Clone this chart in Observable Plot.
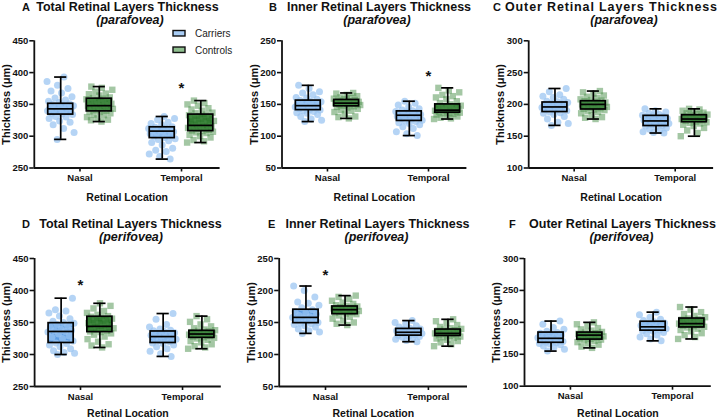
<!DOCTYPE html>
<html><head><meta charset="utf-8">
<script src="https://cdn.jsdelivr.net/npm/d3@7"></script>
<script src="https://cdn.jsdelivr.net/npm/@observablehq/plot@0.6"></script>
<style>
body{margin:0;background:#fff;}
#wrap{position:relative;width:720px;height:420px;overflow:hidden;background:#fff;}
.panel{position:absolute;}
#over{position:absolute;left:0;top:0;pointer-events:none;}
</style></head><body><div id="wrap"></div><script>
// ---------------- data ----------------
const locations = ["Nasal", "Temporal"];
const groups = ["Carriers", "Controls"];
const panelLetters = ["A", "B", "C", "D", "E", "F"];
const panelTitles = ["Total Retinal Layers Thickness", "Inner Retinal Layers Thickness", "Outer Retinal Layers Thickness",
                     "Total Retinal Layers Thickness", "Inner Retinal Layers Thickness", "Outer Retinal Layers Thickness"];
const panelRegions = ["(parafovea)", "(parafovea)", "(parafovea)", "(perifovea)", "(perifovea)", "(perifovea)"];
const yAxisLabel = "Thickness (μm)";
const xAxisLabel = "Retinal Location";
const yDomains = [[250, 450], [50, 250], [100, 300], [250, 450], [50, 250], [100, 300]];
const yTicks = [[250, 300, 350, 400, 450], [50, 100, 150, 200, 250], [100, 150, 200, 250, 300],
                [250, 300, 350, 400, 450], [50, 100, 150, 200, 250], [100, 150, 200, 250, 300]];

// box stats [min, q1, median, q3, max]; order: Carriers-Nasal, Controls-Nasal, Carriers-Temporal, Controls-Temporal
const boxA = [[295, 334, 343, 351, 393], [323, 339, 348, 359, 378], [264, 297, 308, 314, 331], [290, 308, 317, 334, 356]];
const boxB = [[123, 141, 148, 156, 180], [128, 147, 152, 157, 168], [101, 124, 133, 139, 155], [127, 137, 141, 150, 176]];
const boxC = [[167, 188, 196, 203, 225], [177, 192, 200, 205, 221], [155, 166, 174, 182, 193], [150, 172, 177, 183, 193]];
const boxD = [[300, 318, 336, 349, 388], [311, 335, 344, 359, 380], [297, 318, 328, 336, 364], [309, 326, 332, 337, 360]];
const boxE = [[133, 149, 158, 170, 207], [146, 163, 170, 175, 192], [120, 129.5, 134.7, 140, 153], [113, 129, 133, 139, 155]];
const boxF = [[155, 168, 175, 184, 202], [160, 173, 180, 184, 200], [171, 187, 193, 201, 216], [174, 192, 198, 206, 224]];

// individual values
const A_car_nas = [295, 306, 312, 318, 322, 324, 328, 330, 331, 334, 335, 336, 338, 339, 340, 341, 342, 343, 344, 345, 346, 347, 348, 349, 350, 351, 353, 355, 357, 360, 362, 368, 371, 375, 380, 386, 393];
const A_con_nas = [323, 325, 326, 328, 330, 333, 334, 336, 338, 339, 340, 341, 343, 344, 345, 346, 347, 348, 349, 350, 351, 352, 354, 355, 356, 358, 359, 360, 361, 364, 366, 367, 370, 373, 376, 378];
const A_car_tem = [264, 268, 272, 276, 278, 281, 286, 290, 293, 295, 296, 298, 300, 301, 302, 304, 305, 306, 307, 308, 309, 310, 311, 312, 313, 314, 315, 318, 320, 322, 326, 328, 331];
const A_con_tem = [290, 292, 294, 298, 300, 302, 305, 306, 307, 308, 309, 310, 312, 313, 314, 315, 316, 317, 318, 320, 322, 324, 325, 328, 330, 331, 333, 334, 336, 337, 340, 342, 344, 348, 350, 352, 356];
const B_car_nas = [123, 125, 127, 131, 134, 136, 137, 139, 140, 141, 142, 143, 144, 145, 146, 147, 148, 149, 150, 151, 152, 153, 154, 155, 156, 158, 160, 161, 165, 168, 170, 175, 180];
const B_con_nas = [128, 130, 131, 135, 138, 140, 141, 143, 145, 146, 147, 148, 149, 150, 150, 151, 152, 152, 153, 154, 154, 155, 156, 157, 158, 159, 160, 161, 163, 165, 167, 168];
const B_car_tem = [101, 104, 107, 112, 115, 118, 120, 121, 123, 124, 125, 127, 128, 129, 130, 131, 132, 133, 134, 135, 136, 137, 138, 139, 140, 141, 143, 146, 149, 152, 155];
const B_con_tem = [127, 128, 129, 131, 133, 134, 135, 136, 137, 137, 138, 139, 140, 140, 141, 142, 143, 144, 145, 146, 147, 148, 150, 152, 155, 158, 161, 163, 165, 169, 172, 176];
const C_car_nas = [167, 170, 172, 177, 181, 184, 186, 187, 188, 190, 191, 192, 193, 194, 195, 196, 197, 198, 199, 200, 201, 202, 203, 204, 205, 208, 211, 213, 215, 220, 225];
const C_con_nas = [177, 179, 180, 183, 186, 188, 190, 191, 192, 193, 194, 195, 196, 197, 198, 199, 200, 200, 201, 202, 203, 204, 205, 206, 207, 208, 210, 212, 214, 217, 219, 221];
const C_car_tem = [155, 156, 157, 159, 161, 163, 165, 166, 167, 168, 170, 171, 172, 173, 174, 175, 176, 177, 178, 179, 180, 181, 182, 183, 184, 186, 188, 190, 193];
const C_con_tem = [150, 155, 159, 163, 166, 168, 170, 171, 172, 173, 174, 175, 176, 177, 177, 178, 179, 180, 181, 182, 183, 184, 185, 186, 187, 188, 190, 192, 193];
const D_car_nas = [300, 302, 303, 306, 309, 312, 315, 317, 318, 321, 325, 327, 329, 332, 335, 336, 337, 338, 340, 342, 345, 347, 349, 350, 352, 356, 360, 365, 368, 370, 388];
const D_con_nas = [311, 314, 316, 320, 324, 328, 331, 333, 335, 336, 337, 339, 341, 343, 344, 345, 347, 349, 351, 353, 356, 358, 359, 360, 362, 365, 368, 372, 376, 380];
const D_car_tem = [297, 301, 305, 309, 312, 315, 317, 318, 320, 322, 324, 326, 327, 328, 329, 330, 331, 332, 334, 336, 337, 338, 340, 343, 347, 355, 364];
const D_con_tem = [309, 311, 313, 316, 319, 321, 323, 325, 326, 327, 328, 329, 330, 331, 332, 332, 333, 334, 335, 336, 337, 338, 339, 341, 344, 347, 351, 355, 360];
const E_car_nas = [133, 135, 137, 140, 143, 145, 147, 148, 149, 150, 152, 154, 155, 157, 158, 159, 161, 163, 165, 167, 170, 173, 177, 180, 182, 190, 200, 207];
const E_con_nas = [146, 148, 150, 153, 156, 159, 161, 163, 164, 165, 166, 167, 168, 169, 170, 170, 171, 172, 173, 174, 175, 176, 177, 179, 181, 184, 187, 190, 192];
const E_car_tem = [120, 122, 124, 126, 127, 128, 129, 130, 131, 132, 133, 134, 135, 135, 136, 137, 138, 139, 140, 141, 143, 145, 148, 150, 153];
const E_con_tem = [113, 116, 119, 121, 123, 125, 126, 127, 128, 129, 130, 131, 132, 133, 133, 134, 135, 136, 137, 138, 139, 140, 141, 143, 146, 149, 152, 155];
const F_car_nas = [155, 158, 161, 163, 165, 166, 167, 168, 169, 170, 172, 173, 174, 175, 176, 177, 178, 180, 182, 183, 184, 186, 189, 192, 197, 202];
const F_con_nas = [160, 162, 165, 167, 169, 171, 172, 173, 174, 175, 176, 177, 178, 179, 180, 180, 181, 182, 183, 184, 185, 187, 189, 191, 194, 197, 200];
const F_car_tem = [171, 174, 177, 180, 182, 184, 186, 187, 188, 189, 190, 191, 192, 193, 194, 195, 196, 198, 199, 201, 203, 205, 208, 212, 216];
const F_con_tem = [174, 177, 180, 183, 186, 188, 190, 192, 193, 194, 195, 196, 197, 198, 199, 200, 201, 202, 204, 205, 206, 208, 210, 213, 216, 220, 224];

// significance markers: [location, value]
const starA = [["Temporal", 382]];
const starB = [["Temporal", 200]];
const starC = [];
const starD = [["Nasal", 415]];
const starE = [["Nasal", 230]];
const starF = [];

// ---------------- assembly ----------------
const boxStats = [boxA, boxB, boxC, boxD, boxE, boxF];
const points = [
  [A_car_nas, A_con_nas, A_car_tem, A_con_tem], [B_car_nas, B_con_nas, B_car_tem, B_con_tem],
  [C_car_nas, C_con_nas, C_car_tem, C_con_tem], [D_car_nas, D_con_nas, D_car_tem, D_con_tem],
  [E_car_nas, E_con_nas, E_car_tem, E_con_tem], [F_car_nas, F_con_nas, F_car_tem, F_con_tem]];
const stars = [starA, starB, starC, starD, starE, starF];

// layout (pixels)
const layout = [
  {left: 0,   top: 0,   mL: 33.8, mR: 20.4, mT: 40.3, mB: 42.5, xl: 29.5},
  {left: 240, top: 0,   mL: 41.5, mR: 13.6, mT: 40.3, mB: 42.5, xl: 29.5},
  {left: 480, top: 0,   mL: 48.2, mR: 6.9,  mT: 40.3, mB: 42.5, xl: 29.5},
  {left: 0,   top: 210, mL: 34.1, mR: 19.2, mT: 48,   mB: 34,   xl: 27.5},
  {left: 240, top: 210, mL: 38.7, mR: 13,   mT: 48,   mB: 34,   xl: 27.5},
  {left: 480, top: 210, mL: 44,   mR: 9.2,  mT: 48,   mB: 34.3, xl: 27.5}];
const xDomain = [-0.45, 1.38];
const dodge = 0.19, halfBox = 0.123, halfCap = 0.06, spread = 0.135;
const fontFam = "'Liberation Sans', Arial, Helvetica, sans-serif";
const boxFill = ["#5d9de4", "#1d6b1d"];
const wrap = document.getElementById("wrap");

function makePanel(i) {
  const L = layout[i];
  const boxes = boxStats[i].map((s, k) => {
    const li = k >> 1, g = k & 1;
    return {g, c: li + (g ? dodge : -dodge), min: s[0], q1: s[1], med: s[2], q3: s[3], max: s[4]};
  });
  const pts = [];
  points[i].forEach((arr, k) => {
    const b = boxes[k];
    arr.forEach((v, j) => {
      const off = (((j * 0.618034 + 0.37 + k * 0.21) % 1) - 0.5) * 2 * spread;
      pts.push({g: b.g, x: b.c + off, y: v});
    });
  });
  const car = pts.filter(d => d.g === 0), con = pts.filter(d => d.g === 1);
  const line = {stroke: "#000", strokeWidth: 1.7};
  const plot = Plot.plot({
    width: 240, height: 210,
    marginLeft: L.mL, marginRight: L.mR, marginTop: L.mT, marginBottom: L.mB,
    style: {fontFamily: fontFam, background: "transparent", overflow: "visible"},
    x: {type: "linear", domain: xDomain},
    y: {domain: yDomains[i]},
    marks: [
      Plot.rect(boxes.filter(d => d.g === 0), {x1: d => d.c - halfBox, x2: d => d.c + halfBox, y1: "q1", y2: "q3", fill: boxFill[0]}),
      Plot.rect(boxes.filter(d => d.g === 1), {x1: d => d.c - halfBox, x2: d => d.c + halfBox, y1: "q1", y2: "q3", fill: boxFill[1]}),
      Plot.dot(car, {x: "x", y: "y", r: 3.5, symbol: "circle", fill: "#98c3f1", fillOpacity: 0.72}),
      Plot.dot(con, {x: "x", y: "y", r: 3.6, symbol: "square", fill: "#4a8f4a", fillOpacity: 0.5}),
      Plot.rect(boxes, {x1: d => d.c - halfBox, x2: d => d.c + halfBox, y1: "q1", y2: "q3", fill: "none", ...line}),
      Plot.ruleY(boxes, {y: "med", x1: d => d.c - halfBox, x2: d => d.c + halfBox, ...line}),
      Plot.ruleX(boxes, {x: "c", y1: "min", y2: "q1", ...line}),
      Plot.ruleX(boxes, {x: "c", y1: "q3", y2: "max", ...line}),
      Plot.ruleY(boxes, {y: "min", x1: d => d.c - halfCap, x2: d => d.c + halfCap, ...line}),
      Plot.ruleY(boxes, {y: "max", x1: d => d.c - halfCap, x2: d => d.c + halfCap, ...line}),
      Plot.axisY({ticks: yTicks[i], tickSize: 4.5, tickPadding: 1.5, strokeWidth: 1.6, fontSize: 9.5, fontWeight: "bold", color: "#111", label: null}),
      Plot.axisX({ticks: [0, 1], tickFormat: d => locations[d], tickSize: 4, tickPadding: 2.5, strokeWidth: 1.6, fontSize: 9.5, fontWeight: "bold", color: "#111", label: null}),
      Plot.ruleX([xDomain[0]], {stroke: "#111", strokeWidth: 1.8}),
      Plot.ruleY([yDomains[i][0]], {stroke: "#111", strokeWidth: 1.8}),
      Plot.text(stars[i], {x: d => locations.indexOf(d[0]), y: d => d[1], text: () => "*", fontSize: 15, fontWeight: "bold", fill: "#111", lineAnchor: "middle", dy: 4}),
      Plot.text([yAxisLabel], {text: d => d, frameAnchor: "left", dx: -28, rotate: -90, fontSize: 11, fontWeight: "bold", fill: "#111", textAnchor: "middle", lineAnchor: "middle"}),
      Plot.text([xAxisLabel], {text: d => d, frameAnchor: "bottom", dy: L.xl, fontSize: 10.5, fontWeight: "bold", fill: "#111", textAnchor: "middle", lineAnchor: "middle"})
    ]
  });
  const div = document.createElement("div");
  div.className = "panel";
  div.style.left = L.left + "px";
  div.style.top = L.top + "px";
  div.appendChild(plot);
  wrap.appendChild(div);
}
for (let i = 0; i < 6; i++) makePanel(i);

// titles and legend overlay
const titleLayout = [
  {letterX: 22, titleC: 127.5, subC: 130, base: 10.5},
  {letterX: 269, titleC: 379, subC: 377, base: 10.5},
  {letterX: 493, titleC: 611, subC: 624, base: 10.5, len: 212},
  {letterX: 22, titleC: 130.5, subC: 131, base: 227.5},
  {letterX: 268, titleC: 377.5, subC: 376.5, base: 227.5},
  {letterX: 509, titleC: 622.5, subC: 621.5, base: 227.5}];
const over = d3.select(wrap).append("svg").attr("id", "over").attr("width", 720).attr("height", 420)
  .style("font-family", fontFam);
titleLayout.forEach((t, i) => {
  over.append("text").attr("x", t.letterX).attr("y", t.base).attr("font-size", 11).attr("font-weight", "bold")
    .attr("fill", "#111").text(panelLetters[i]);
  const tt = over.append("text").attr("x", t.titleC).attr("y", t.base).attr("font-size", 12.5).attr("font-weight", "bold")
    .attr("fill", "#111").attr("text-anchor", "middle").text(panelTitles[i]);
  if (t.len) tt.attr("textLength", t.len).attr("lengthAdjust", "spacing");
  over.append("text").attr("x", t.subC).attr("y", t.base + 13.5).attr("font-size", 12.5).attr("font-weight", "bold")
    .attr("font-style", "italic").attr("fill", "#111").attr("text-anchor", "middle").text(panelRegions[i]);
});
const legendFill = ["#a9cdf5", "#8fbf8f"];
groups.forEach((g, k) => {
  const y = 30.5 + k * 16.5;
  over.append("rect").attr("x", 173).attr("y", y).attr("width", 12).attr("height", 5.5)
    .attr("fill", legendFill[k]).attr("stroke", "#111").attr("stroke-width", 1.4);
  over.append("text").attr("x", 195).attr("y", y + 6.5).attr("font-size", 10).attr("fill", "#222").text(g);
});
</script></body></html>
